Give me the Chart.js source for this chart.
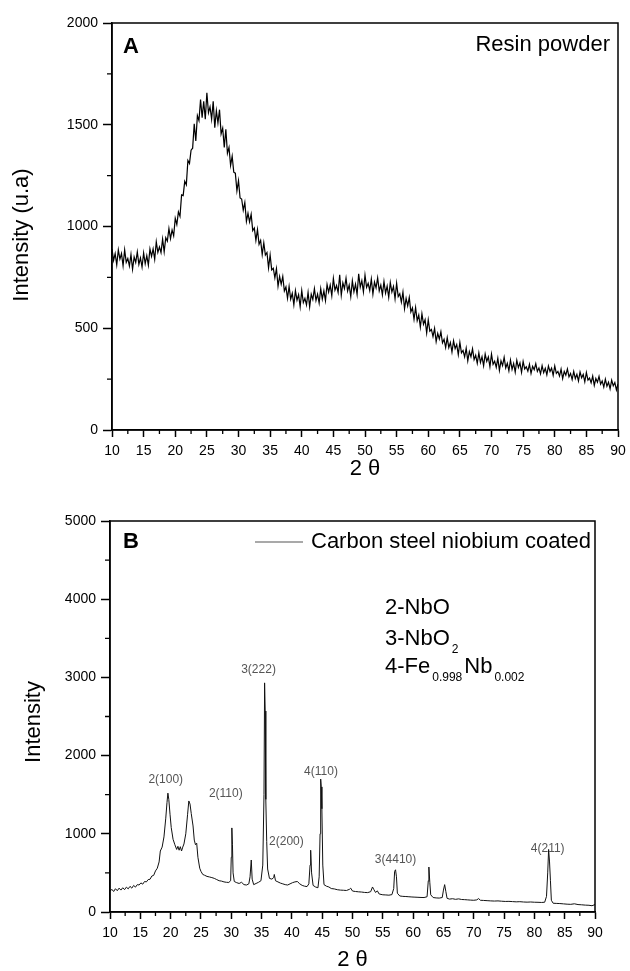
<!DOCTYPE html>
<html>
<head>
<meta charset="utf-8">
<title>XRD patterns</title>
<script src="https://cdn.jsdelivr.net/npm/chart.js@4/dist/chart.umd.min.js"></script>
<style>
  html, body { margin: 0; padding: 0; background: #fff; }
  #wrap { position: relative; width: 630px; height: 971px; }
  canvas { position: absolute; left: 0; }
  #chartA { top: 0; }
  #chartB { top: 485px; }
</style>
</head>
<body>
<div id="wrap">
  <canvas id="chartA" width="630" height="485"></canvas>
  <canvas id="chartB" width="630" height="486"></canvas>
</div>
<script>
// ---- panel A: resin powder (2θ in degrees, intensity in u.a) ----
const thetaA = [
  10, 10.25, 10.5, 10.75, 11, 11.25, 11.5, 11.75,
  12, 12.25, 12.5, 12.75, 13, 13.25, 13.5, 13.75,
  14, 14.25, 14.5, 14.75, 15, 15.25, 15.5, 15.75,
  16, 16.25, 16.5, 16.75, 17, 17.25, 17.5, 17.75,
  18, 18.25, 18.5, 18.75, 19, 19.25, 19.5, 19.75,
  20, 20.25, 20.5, 20.75, 21, 21.25, 21.5, 21.75,
  22, 22.25, 22.5, 22.75, 23, 23.25, 23.5, 23.75,
  24, 24.25, 24.5, 24.75, 25, 25.25, 25.5, 25.75,
  26, 26.25, 26.5, 26.75, 27, 27.25, 27.5, 27.75,
  28, 28.25, 28.5, 28.75, 29, 29.25, 29.5, 29.75,
  30, 30.25, 30.5, 30.75, 31, 31.25, 31.5, 31.75,
  32, 32.25, 32.5, 32.75, 33, 33.25, 33.5, 33.75,
  34, 34.25, 34.5, 34.75, 35, 35.25, 35.5, 35.75,
  36, 36.25, 36.5, 36.75, 37, 37.25, 37.5, 37.75,
  38, 38.25, 38.5, 38.75, 39, 39.25, 39.5, 39.75,
  40, 40.25, 40.5, 40.75, 41, 41.25, 41.5, 41.75,
  42, 42.25, 42.5, 42.75, 43, 43.25, 43.5, 43.75,
  44, 44.25, 44.5, 44.75, 45, 45.25, 45.5, 45.75,
  46, 46.25, 46.5, 46.75, 47, 47.25, 47.5, 47.75,
  48, 48.25, 48.5, 48.75, 49, 49.25, 49.5, 49.75,
  50, 50.25, 50.5, 50.75, 51, 51.25, 51.5, 51.75,
  52, 52.25, 52.5, 52.75, 53, 53.25, 53.5, 53.75,
  54, 54.25, 54.5, 54.75, 55, 55.25, 55.5, 55.75,
  56, 56.25, 56.5, 56.75, 57, 57.25, 57.5, 57.75,
  58, 58.25, 58.5, 58.75, 59, 59.25, 59.5, 59.75,
  60, 60.25, 60.5, 60.75, 61, 61.25, 61.5, 61.75,
  62, 62.25, 62.5, 62.75, 63, 63.25, 63.5, 63.75,
  64, 64.25, 64.5, 64.75, 65, 65.25, 65.5, 65.75,
  66, 66.25, 66.5, 66.75, 67, 67.25, 67.5, 67.75,
  68, 68.25, 68.5, 68.75, 69, 69.25, 69.5, 69.75,
  70, 70.25, 70.5, 70.75, 71, 71.25, 71.5, 71.75,
  72, 72.25, 72.5, 72.75, 73, 73.25, 73.5, 73.75,
  74, 74.25, 74.5, 74.75, 75, 75.25, 75.5, 75.75,
  76, 76.25, 76.5, 76.75, 77, 77.25, 77.5, 77.75,
  78, 78.25, 78.5, 78.75, 79, 79.25, 79.5, 79.75,
  80, 80.25, 80.5, 80.75, 81, 81.25, 81.5, 81.75,
  82, 82.25, 82.5, 82.75, 83, 83.25, 83.5, 83.75,
  84, 84.25, 84.5, 84.75, 85, 85.25, 85.5, 85.75,
  86, 86.25, 86.5, 86.75, 87, 87.25, 87.5, 87.75,
  88, 88.25, 88.5, 88.75, 89, 89.25, 89.5, 89.75,
  90
];
const intensityA = [
  890, 833, 867, 812, 885, 840, 867, 807,
  885, 824, 843, 806, 863, 790, 850, 823,
  875, 814, 846, 801, 870, 817, 857, 810,
  890, 853, 890, 839, 925, 873, 900, 872,
  938, 875, 945, 928, 990, 940, 983, 954,
  1040, 1010, 1072, 1050, 1155, 1152, 1222, 1205,
  1325, 1310, 1375, 1385, 1505, 1420, 1545, 1520,
  1624, 1535, 1615, 1527, 1657, 1559, 1588, 1527,
  1615, 1486, 1569, 1509, 1574, 1455, 1483, 1389,
  1478, 1360, 1389, 1300, 1345, 1267, 1262, 1175,
  1225, 1140, 1135, 1080, 1118, 1025, 1065, 1023,
  1060, 980, 993, 932, 985, 913, 932, 862,
  920, 860, 872, 797, 860, 787, 795, 748,
  793, 707, 755, 716, 755, 683, 703, 647,
  705, 643, 672, 615, 685, 638, 665, 606,
  685, 626, 647, 615, 676, 605, 667, 641,
  695, 636, 668, 624, 695, 643, 684, 636,
  715, 677, 712, 660, 745, 687, 710, 676,
  763, 663, 723, 695, 746, 683, 712, 655,
  733, 679, 717, 666, 768, 702, 734, 679,
  761, 701, 721, 685, 742, 668, 727, 698,
  748, 684, 712, 664, 730, 673, 707, 652,
  725, 678, 705, 645, 721, 656, 670, 628,
  678, 596, 647, 610, 652, 580, 600, 544,
  602, 537, 565, 505, 571, 520, 542, 477,
  541, 486, 494, 459, 499, 434, 475, 447,
  483, 428, 446, 405, 454, 405, 430, 383,
  438, 400, 420, 370, 431, 379, 391, 359,
  402, 340, 385, 360, 399, 346, 367, 328,
  379, 332, 360, 315, 373, 337, 359, 311,
  373, 323, 338, 308, 353, 293, 340, 316,
  357, 305, 328, 291, 344, 298, 327, 284,
  343, 307, 330, 283, 337, 300, 311, 289,
  323, 278, 313, 296, 326, 288, 305, 276,
  316, 282, 303, 271, 315, 287, 304, 269,
  315, 278, 288, 265, 299, 253, 288, 270,
  300, 261, 278, 248, 288, 253, 274, 241,
  285, 257, 273, 237, 283, 245, 255, 232,
  265, 219, 253, 235, 264, 225, 241, 211,
  250, 215, 235, 202, 245, 217, 233, 197,
  226
];

// ---- panel B: carbon steel niobium coated ----
const thetaB = [
  10.0, 10.3, 10.6, 10.9, 11.2, 11.5, 11.8, 12.1, 12.4, 12.7,
  13.0, 13.3, 13.6, 13.9, 14.2, 14.5, 14.8, 15.1, 15.4, 15.7,
  16.0, 16.3, 16.6, 16.9, 17.2, 17.5, 17.8, 18.1, 18.3, 18.6,
  18.9, 19.2, 19.4, 19.55, 19.7, 19.9, 20.1, 20.4, 20.7, 21.0,
  21.2, 21.4, 21.6, 21.8, 22.0, 22.2, 22.5, 22.8, 23.0, 23.2,
  23.4, 23.7, 23.9, 24.1, 24.3, 24.5, 24.8, 25.0, 25.3, 25.6,
  26.0, 26.4, 26.8, 27.2, 27.6, 28.0, 28.4, 28.8, 29.2, 29.6,
  29.9, 30.0, 30.1, 30.2, 30.3, 30.5, 30.9, 31.3, 31.7, 32.1,
  32.5, 32.9, 33.1, 33.3, 33.45, 33.7, 34.1, 34.5, 34.9, 35.2,
  35.4, 35.5, 35.6, 35.7, 35.85, 36.0, 36.3, 36.7, 37.0, 37.1,
  37.3, 37.7, 38.1, 38.5, 38.9, 39.3, 39.7, 40.1, 40.5, 40.9,
  41.3, 41.7, 42.1, 42.5, 42.8, 43.0, 43.1, 43.25, 43.5, 43.9,
  44.3, 44.5, 44.65, 44.75, 44.85, 44.95, 45.1, 45.3, 45.7, 46.1,
  46.5, 47.0, 47.5, 48.0, 48.5, 49.0, 49.5, 49.7, 50.0, 50.5,
  51.0, 51.5, 52.0, 52.5, 53.0, 53.3, 53.5, 53.8, 54.1, 54.4,
  55.0, 55.5, 56.0, 56.5, 56.8, 56.95, 57.1, 57.25, 57.4, 57.8,
  58.3, 58.8, 59.3, 59.8, 60.3, 60.8, 61.3, 61.8, 62.3, 62.5,
  62.6, 62.75, 62.9, 63.3, 63.8, 64.3, 64.8, 65.0, 65.2, 65.4,
  65.6, 66.0, 66.5, 67.0, 67.5, 68.0, 68.5, 69.0, 69.5, 70.0,
  70.5, 70.8, 71.1, 71.6, 72.2, 72.8, 73.4, 74.0, 74.6, 75.2,
  75.8, 76.4, 77.0, 77.6, 78.2, 78.8, 79.4, 80.0, 80.6, 81.2,
  81.7, 82.0, 82.2, 82.35, 82.5, 82.65, 82.8, 83.1, 83.6, 84.2,
  84.8, 85.4, 86.0, 86.6, 87.2, 87.8, 88.4, 89.0, 89.5, 90.0
];
const intensityB = [
  265, 290, 262, 298, 272, 305, 280, 310, 286, 318,
  296, 328, 305, 340, 318, 350, 345, 372, 356, 390,
  385, 415, 418, 460, 468, 525, 560, 640, 780, 830,
  960, 1200, 1400, 1520, 1440, 1250, 1080, 930, 860, 800,
  840, 790, 835, 780, 830, 870, 1000, 1250, 1420, 1380,
  1260, 1100, 920, 860, 880, 700, 560, 520, 480, 470,
  455, 448, 440, 430, 415, 400, 395, 385, 380, 378,
  400, 700, 1075, 860, 500, 390, 375, 365, 380, 350,
  345, 360, 450, 665, 420, 350, 365, 380, 400, 600,
  1500, 2930, 2570, 1440, 900, 550, 430, 420, 440, 480,
  400, 385, 370, 360, 350, 345, 360, 375, 385, 390,
  360, 340, 330, 325, 360, 600, 790, 500, 340, 320,
  310, 450, 1000, 1700, 1600, 1320, 600, 350, 330, 320,
  300, 295, 285, 280, 278, 275, 290, 305, 268, 262,
  258, 255, 250, 248, 260, 320, 290, 250, 270, 230,
  220, 218, 215, 222, 300, 520, 540, 450, 240, 205,
  200, 198, 195, 192, 190, 188, 186, 185, 195, 400,
  575, 380, 220, 185, 180, 178, 185, 280, 350, 260,
  175, 165, 170, 162, 168, 160, 158, 155, 152, 150,
  155, 172, 150, 148, 145, 142, 140, 142, 138, 135,
  136, 133, 130, 132, 128, 126, 128, 125, 124, 122,
  125, 200, 500, 800, 640, 400, 150, 112, 110, 108,
  104, 100, 98, 105, 95, 92, 88, 86, 80, 95
];

// peak labels in panel B (placed in data coordinates)
const peakLabels = ['2(100)', '2(110)', '3(222)', '2(200)', '4(110)', '3(4410)', '4(211)'];
const peakLabelTheta = [19.2, 29.1, 34.5, 39.1, 44.8, 57.1, 82.2];
const peakLabelIntensity = [1690, 1510, 3095, 900, 1795, 665, 806];

// phase key in panel B: [text, isSubscript]
const phaseKey = [
  [['2-NbO', false]],
  [['3-NbO', false], ['2', true]],
  [['4-Fe', false], ['0.998', true], ['Nb', false], ['0.002', true]]
];

// axis ticks
const xTicks = [10, 15, 20, 25, 30, 35, 40, 45, 50, 55, 60, 65, 70, 75, 80, 85, 90];
const xMinor = [12.5, 17.5, 22.5, 27.5, 32.5, 37.5, 42.5, 47.5, 52.5, 57.5, 62.5, 67.5, 72.5, 77.5, 82.5, 87.5];
const yTicksA = [0, 500, 1000, 1500, 2000];
const yMinorA = [250, 750, 1250, 1750];
const yTicksB = [0, 1000, 2000, 3000, 4000, 5000];
const yMinorB = [500, 1500, 2500, 3500, 4500];

const FONT = "'Liberation Sans', Arial, Helvetica, sans-serif";

function toPoints(xs, ys) {
  return xs.map((x, i) => ({ x, y: ys[i] }));
}

// frame, minor ticks, axis titles and panel text
const decor = {
  id: 'decor',
  afterDraw(chart, args, opts) {
    const ctx = chart.ctx;
    const a = chart.chartArea;
    const xs = chart.scales.x;
    const ys = chart.scales.y;
    ctx.save();
    ctx.strokeStyle = '#000';
    ctx.lineWidth = 1.5;
    ctx.strokeRect(a.left, a.top, a.right - a.left, a.bottom - a.top);

    ctx.lineWidth = 1.3;
    ctx.beginPath();
    opts.minorX.forEach((v) => {
      const px = xs.getPixelForValue(v);
      ctx.moveTo(px, a.bottom);
      ctx.lineTo(px, a.bottom + 4);
    });
    opts.minorY.forEach((v) => {
      const py = ys.getPixelForValue(v);
      ctx.moveTo(a.left, py);
      ctx.lineTo(a.left - 5, py);
    });
    ctx.stroke();

    ctx.fillStyle = '#000';
    ctx.font = `22px ${FONT}`;
    ctx.textAlign = 'center';
    ctx.textBaseline = 'middle';
    ctx.fillText(opts.xTitle, (a.left + a.right) / 2, opts.xTitleY);
    ctx.save();
    ctx.translate(opts.yTitleX, opts.yTitleY);
    ctx.rotate(-Math.PI / 2);
    ctx.fillText(opts.yTitle, 0, 0);
    ctx.restore();

    ctx.font = `bold 22px ${FONT}`;
    ctx.textAlign = 'left';
    ctx.textBaseline = 'alphabetic';
    ctx.fillText(opts.letter, opts.letterX, opts.letterY);

    if (opts.extra) opts.extra(chart, ctx);
    ctx.restore();
  }
};

function makeOptions(cfg) {
  return {
    responsive: false,
    animation: false,
    devicePixelRatio: 1,
    layout: { padding: cfg.padding },
    plugins: {
      legend: { display: false },
      tooltip: { enabled: false },
      decor: cfg.decor
    },
    scales: {
      x: {
        type: 'linear',
        min: 10,
        max: 90,
        afterBuildTicks: (s) => { s.ticks = xTicks.map((v) => ({ value: v })); },
        afterFit: (s) => { s.height = cfg.xHeight; s.paddingLeft = 0; s.paddingRight = 0; },
        ticks: {
          color: '#000', font: { family: FONT, size: 14 }, padding: 6, maxRotation: 0, autoSkip: false,
          callback: (v) => String(v)
        },
        grid: { drawOnChartArea: false, tickLength: 7, tickColor: '#000', tickWidth: 1.5 },
        border: { display: true, color: '#000', width: 1.5 }
      },
      y: {
        type: 'linear',
        min: 0,
        max: cfg.yMax,
        afterBuildTicks: (s) => { s.ticks = cfg.yTicks.map((v) => ({ value: v })); },
        afterFit: (s) => { s.width = cfg.yWidth; s.paddingTop = 0; s.paddingBottom = 0; },
        ticks: { color: '#000', font: { family: FONT, size: 14 }, padding: 5, callback: (v) => String(v) },
        grid: { drawOnChartArea: false, tickLength: 9, tickColor: '#000', tickWidth: 1.5 },
        border: { display: true, color: '#000', width: 1.5 }
      }
    }
  };
}

function drawResinLabel(chart, ctx) {
  ctx.font = `22px ${FONT}`;
  ctx.textAlign = 'right';
  ctx.textBaseline = 'alphabetic';
  ctx.fillText('Resin powder', 610, 51);
}

function drawPanelBText(chart, ctx) {
  const xs = chart.scales.x;
  const ys = chart.scales.y;

  // legend
  ctx.strokeStyle = '#555';
  ctx.lineWidth = 1.2;
  ctx.beginPath();
  ctx.moveTo(255, 57);
  ctx.lineTo(303, 57);
  ctx.stroke();
  ctx.fillStyle = '#000';
  ctx.font = `22px ${FONT}`;
  ctx.textAlign = 'left';
  ctx.textBaseline = 'middle';
  ctx.fillText('Carbon steel niobium coated', 311, 57);

  // phase key
  const rowY = [123, 154, 182];
  phaseKey.forEach((row, r) => {
    let x = 385;
    row.forEach(([t, sub]) => {
      ctx.font = sub ? `12px ${FONT}` : `22px ${FONT}`;
      const y = sub ? rowY[r] + 11 : rowY[r];
      if (sub) x += 2;
      ctx.fillText(t, x, y);
      x += ctx.measureText(t).width + (sub ? 2 : 0);
    });
  });

  // peak labels
  ctx.fillStyle = '#555';
  ctx.font = `12px ${FONT}`;
  ctx.textAlign = 'center';
  peakLabels.forEach((t, i) => {
    ctx.fillText(t, xs.getPixelForValue(peakLabelTheta[i]), ys.getPixelForValue(peakLabelIntensity[i]));
  });
}

new Chart(document.getElementById('chartA'), {
  type: 'line',
  data: {
    datasets: [{
      label: 'Resin powder',
      data: toPoints(thetaA, intensityA),
      borderColor: '#000',
      borderWidth: 1.2,
      pointRadius: 0,
      tension: 0
    }]
  },
  options: makeOptions({
    padding: { top: 23, right: 12, left: 0, bottom: 0 },
    xHeight: 55,
    yWidth: 112,
    yMax: 2000,
    yTicks: yTicksA,
    decor: {
      minorX: xMinor, minorY: yMinorA,
      xTitle: '2 \u03b8', xTitleY: 469,
      yTitle: 'Intensity (u.a)', yTitleX: 22, yTitleY: 235,
      letter: 'A', letterX: 123, letterY: 53,
      extra: drawResinLabel
    }
  }),
  plugins: [decor]
});

new Chart(document.getElementById('chartB'), {
  type: 'line',
  data: {
    datasets: [{
      label: 'Carbon steel niobium coated',
      data: toPoints(thetaB, intensityB),
      borderColor: '#111',
      borderWidth: 1,
      pointRadius: 0,
      tension: 0
    }]
  },
  options: makeOptions({
    padding: { top: 36, right: 35, left: 0, bottom: 0 },
    xHeight: 59,
    yWidth: 110,
    yMax: 5000,
    yTicks: yTicksB,
    decor: {
      minorX: xMinor, minorY: yMinorB,
      xTitle: '2 \u03b8', xTitleY: 475,
      yTitle: 'Intensity', yTitleX: 34, yTitleY: 237,
      letter: 'B', letterX: 123, letterY: 63,
      extra: drawPanelBText
    }
  }),
  plugins: [decor]
});
</script>
</body>
</html>
